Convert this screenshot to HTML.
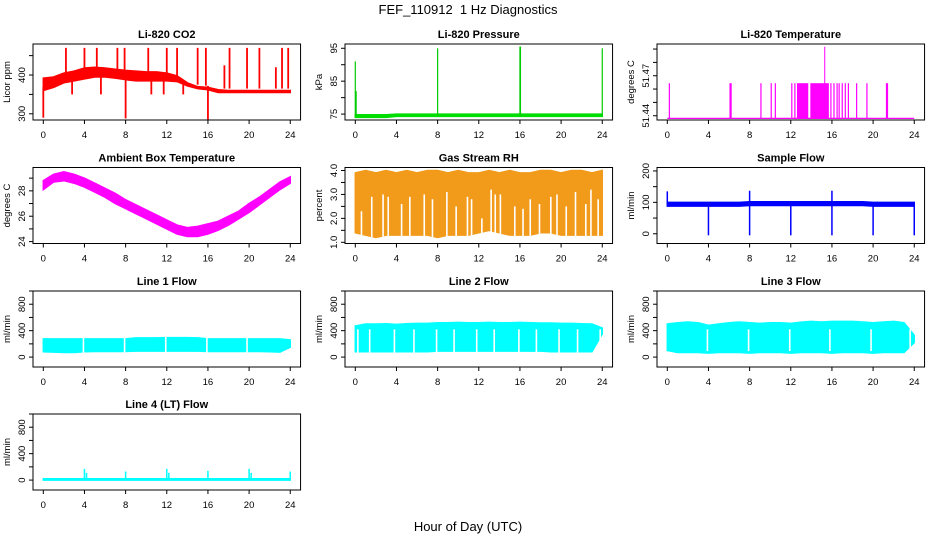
<!DOCTYPE html>
<html><head><meta charset="utf-8">
<style>
html,body{margin:0;padding:0;background:#fff;}
svg{display:block;font-family:"Liberation Sans",Arial,sans-serif;}
</style></head>
<body>
<svg id="chart" width="936" height="540" viewBox="0 0 936 540">
<rect width="936" height="540" fill="#fff"/>
<text x="468" y="14" text-anchor="middle" font-size="13" xml:space="preserve">FEF_110912  1 Hz Diagnostics</text>
<text x="468" y="531" text-anchor="middle" font-size="13">Hour of Day (UTC)</text>
</svg>
<script>
// ---------- data ----------
const hours = [0,1,2,3,4,5,6,7,8,9,10,11,12,13,14,15,16,17,18,19,20,21,22,23,24];
const xTicks = [0,4,8,12,16,20,24];

const co2Hi = [392,395,405,410,418,420,418,415,412,410,408,408,405,398,380,370,368,362,360,360,360,360,360,360,360];
const co2Lo = [360,368,380,385,390,395,395,392,388,385,385,385,385,383,372,365,362,355,355,355,355,355,355,355,355];
const co2SpikeT = [0.0,2.2,4.0,5.2,7.2,7.9,8.0,10.2,12.0,13.0,15.0,15.8,16.0,17.6,18.1,19.8,21.0,22.6,23.2,23.8,2.8,5.6,10.5,11.7,13.6];
const co2SpikeV = [290,470,470,470,470,470,288,470,470,470,470,470,285,425,470,470,470,420,470,470,350,350,350,350,350];

const presHi = [74.8,74.8,74.8,74.8,75.0,75.0,75.0,75.0,75.0,75.0,75.0,75.0,75.0,75.0,75.0,75.0,75.0,75.0,75.0,75.0,75.0,75.0,75.0,75.0,75.0];
const presLo = [74.0,74.0,74.0,74.0,74.3,74.3,74.3,74.3,74.3,74.3,74.3,74.3,74.3,74.3,74.3,74.3,74.3,74.3,74.3,74.3,74.3,74.3,74.3,74.3,74.3];
const presSpikeT = [0.0,0.08,8.0,16.0,16.05,24.0];
const presSpikeV = [91,82,95,95.5,95.5,95];

const ltBase = 51.438;
const ltStep = 51.4644;
const ltSpikeT = [0.2,6.1,6.2,9.1,10.1,10.5,12.1,12.4,15.9,16.2,16.5,16.7,17.0,17.3,17.6,18.4,19.4,21.3,21.4];
const ltBlockStart = [12.6,13.9];
const ltBlockEnd = [13.7,15.7];
const ltPeakT = [15.3];
const ltPeakV = [51.4917];

const ambHi = [28.8,29.3,29.5,29.3,29.0,28.6,28.2,27.8,27.3,26.9,26.5,26.1,25.7,25.3,25.1,25.2,25.4,25.6,26.0,26.4,27.0,27.5,28.1,28.7,29.1];
const ambLo = [28.1,28.7,28.8,28.6,28.3,27.9,27.5,27.0,26.6,26.2,25.8,25.4,25.0,24.6,24.4,24.4,24.6,24.9,25.3,25.8,26.3,26.9,27.5,28.1,28.6];

const rhHi = [3.9,4.0,3.9,4.0,3.9,4.0,3.9,4.0,4.0,3.9,4.0,3.9,3.9,4.0,3.9,4.0,3.9,3.9,4.0,4.0,3.9,4.0,4.0,3.9,4.0];
const rhLo = [1.4,1.3,1.2,1.3,1.3,1.3,1.3,1.3,1.2,1.3,1.3,1.3,1.4,1.5,1.4,1.3,1.3,1.3,1.4,1.4,1.3,1.3,1.3,1.3,1.3];
const rhGapT = [0.6,1.6,2.7,3.2,4.5,5.3,6.7,7.5,8.9,9.8,10.9,11.3,12.3,13.2,13.6,14.1,15.5,16.3,17.0,17.9,19.0,19.6,20.5,21.4,22.4,22.9,23.6];
const rhGapV = [2.3,2.9,3.0,2.9,2.6,2.9,3.0,2.8,3.1,2.5,2.9,2.8,2.0,3.2,3.0,3.0,2.5,2.4,2.8,2.6,2.9,3.0,2.5,3.1,2.6,3.2,2.8];

const sfHi = [100,100,100,100,100,100,100,100,102,102,102,102,102,102,102,102,102,102,102,102,100,100,100,100,100];
const sfLo = [88,88,88,88,88,88,88,88,90,90,90,90,90,90,90,90,90,90,90,90,88,88,88,88,88];
const sfSpikeT = [0.0,4.0,8.0,8.0,12.0,16.0,16.0,20.0,24.0];
const sfSpikeV = [135,-5,-5,137,-5,-5,137,-5,-5];

const l1Hi = [275,275,275,275,275,275,275,275,275,290,290,290,295,295,295,290,275,275,275,275,275,275,275,275,260];
const l1Lo = [80,75,70,70,80,85,85,85,85,90,90,90,90,90,90,90,85,85,85,85,85,85,80,75,150];
const l1GapT = [3.9,7.9,11.9,15.9,19.8];

const l2Hi = [470,500,500,505,495,505,510,510,520,520,525,520,520,525,520,520,525,520,515,515,510,510,505,500,440];
const l2Lo = [80,80,80,80,80,80,80,80,90,90,90,90,90,90,90,90,90,90,90,80,80,80,80,80,350];
const l2GapT = [0.25,1.4,3.8,5.7,7.9,9.6,11.8,13.5,15.9,17.6,19.8,21.6,23.8];

const l3Hi = [500,520,530,520,480,500,520,530,520,510,520,520,510,530,540,530,540,540,540,530,520,530,540,520,330];
const l3Lo = [100,70,70,70,60,70,70,70,60,70,70,70,60,70,70,70,60,70,70,70,60,70,70,70,220];
const l3GapT = [3.9,7.9,11.9,15.8,19.8,23.6];

const l4Hi = [20,20,20,20,20,20,20,20,20,20,20,20,20,20,20,20,20,20,20,20,20,20,20,20,20];
const l4Lo = [0,0,0,0,0,0,0,0,0,0,0,0,0,0,0,0,0,0,0,0,0,0,0,0,0];
const l4SpikeT = [4.0,4.2,8.0,12.0,12.2,16.0,20.0,20.2,24.0];
const l4SpikeV = [170,110,130,170,110,140,170,110,130];

// ---------- drawing ----------
const svg = document.getElementById('chart');
const NS = 'http://www.w3.org/2000/svg';
const COLX = [43.3, 355.3, 667.3];
const ROWY = [44, 167.5, 291, 414];
const PH = 10.29, BH = 76;

function mk(tag, attrs, parent) {
  const e = document.createElementNS(NS, tag);
  for (const k in attrs) e.setAttribute(k, attrs[k]);
  (parent || svg).appendChild(e);
  return e;
}

function panel(col, row, title, ylab, ylim, yticks, ylabels, name) {
  const g = mk('g', {});
  
  
  const x0 = COLX[col], top = ROWY[row], bot = top + BH;
  const L = x0 - 10.3, R = x0 + 24 * PH + 10.3;
  const x = h => x0 + h * PH;
  const y = v => bot - (v - ylim[0]) / (ylim[1] - ylim[0]) * BH;
  const plot = mk('g', {}, g);
  
  
  const fr = mk('rect', {x: L, y: top, width: R - L, height: BH, fill: 'none', stroke: '#000', 'stroke-width': 1}, g);
  
  
  const t = mk('text', {x: (L + R) / 2, y: top - 6, 'text-anchor': 'middle', 'font-size': 11, 'font-weight': 'bold'}, g);
  t.textContent = title;
  
  
  const xa = mk('g', {}, g);
  
  
  xTicks.forEach(h => {
    mk('line', {x1: x(h), x2: x(h), y1: bot, y2: bot + 4, stroke: '#000'}, xa);
    const tl = mk('text', {x: x(h), y: bot + 18, 'text-anchor': 'middle', 'font-size': 9.5}, xa);
    tl.textContent = h;
    
    
  });
  const ya = mk('g', {}, g);
  
  
  yticks.forEach(v => {
    mk('line', {x1: L, x2: L - 4, y1: y(v), y2: y(v), stroke: '#000'}, ya);
  });
  ylabels.forEach(v => {
    const yl = mk('text', {x: 0, y: 0, 'text-anchor': 'middle', 'font-size': 9.5, transform: `translate(${L - 8},${y(v)}) rotate(-90)`}, ya);
    yl.textContent = v;
    
    
  });
  const yt = mk('text', {x: 0, y: 0, 'text-anchor': 'middle', 'font-size': 9.5, transform: `translate(${L - 23},${(top + bot) / 2}) rotate(-90)`}, g);
  yt.textContent = ylab;
  
  
  return {x, y, plot, top, bot};
}

function band(p, hi, lo, color, name) {
  let pts = hours.map((h, i) => p.x(h) + ',' + p.y(hi[i]));
  pts = pts.concat(hours.map((h, i) => p.x(h) + ',' + p.y(lo[i])).reverse());
  const e = mk('polygon', {points: pts.join(' '), fill: color, stroke: color, 'stroke-width': 1.5}, p.plot);
  
  
}
function interp(arr, h) {
  const i = Math.min(23, Math.floor(h)); const f = h - i;
  return arr[i] * (1 - f) + arr[i + 1] * f;
}
function spikes(p, ts, vs, base, color, name, w) {
  ts.forEach((t, i) => {
    const b = typeof base === 'function' ? base(t) : base;
    const e = mk('line', {x1: p.x(t), x2: p.x(t), y1: p.y(b), y2: p.y(vs[i]), stroke: color, 'stroke-width': w || 1.5}, p.plot);
    
    
  });
}
function gaps(p, ts, from, to, name) {
  ts.forEach(t => {
    const e = mk('line', {x1: p.x(t), x2: p.x(t), y1: p.y(from), y2: p.y(to), stroke: '#fff', 'stroke-width': 1.6}, p.plot);
    
    
  });
}

let p = panel(0, 0, 'Li-820 CO2', 'Licor ppm', [284, 480], [300, 350, 400, 450], [300, 400], 'co2');
band(p, co2Hi, co2Lo, '#ff0000', 'co2-series');
spikes(p, co2SpikeT, co2SpikeV, t => interp(co2Lo, t) + 10, '#ff0000', 'co2-spike', 1.8);

p = panel(1, 0, 'Li-820 Pressure', 'kPa', [73.2, 96.3], [75, 80, 85, 90, 95], [75, 85, 95], 'pressure');
band(p, presHi, presLo, '#00dd00', 'pressure-series');
spikes(p, presSpikeT, presSpikeV, 74.5, '#00cc00', 'pressure-spike', 1.2);

p = panel(2, 0, 'Li-820 Temperature', 'degrees C', [51.4368, 51.4938], [51.44, 51.45, 51.46, 51.47, 51.48, 51.49], [51.44, 51.47], 'li-temperature');
(function () {
  const e = mk('line', {x1: p.x(0), x2: p.x(24), y1: p.y(ltBase), y2: p.y(ltBase), stroke: '#ff00ff', 'stroke-width': 1.3}, p.plot);
  
  
  spikes(p, ltSpikeT, ltSpikeT.map(() => ltStep), ltBase, '#ff00ff', 'li-temperature-step', 1.2);
  ltBlockStart.forEach((s, i) => {
    const r = mk('rect', {x: p.x(s), y: p.y(ltStep), width: p.x(ltBlockEnd[i]) - p.x(s), height: p.y(ltBase) - p.y(ltStep), fill: '#ff00ff'}, p.plot);
    
    
  });
  spikes(p, ltPeakT, ltPeakV, ltBase, '#ff00ff', 'li-temperature-peak', 1);
})();

p = panel(0, 1, 'Ambient Box Temperature', 'degrees C', [23.85, 29.84], [24, 25, 26, 27, 28, 29], [24, 26, 28], 'ambient-temperature');
band(p, ambHi, ambLo, '#ff00ff', 'ambient-temperature-series');

p = panel(1, 1, 'Gas Stream RH', 'percent', [0.95, 4.125], [1.0, 1.5, 2.0, 2.5, 3.0, 3.5, 4.0], ['1.0', '2.0', '3.0', '4.0'], 'gas-rh');
band(p, rhHi, rhLo, '#f29a1a', 'gas-rh-series');
(function () {
  rhGapT.forEach((t, i) => {
    const e = mk('line', {x1: p.x(t), x2: p.x(t), y1: p.y(1.0), y2: p.y(rhGapV[i]), stroke: '#fff', 'stroke-width': 1.6}, p.plot);
    
    
  });
})();

p = panel(2, 1, 'Sample Flow', 'ml/min', [-31, 211], [0, 50, 100, 150, 200], [0, 100, 200], 'sample-flow');
band(p, sfHi, sfLo, '#0000ff', 'sample-flow-series');
spikes(p, sfSpikeT, sfSpikeV, 95, '#0000ff', 'sample-flow-spike', 1.5);

const lt = [0, 200, 400, 600, 800, 1000], ll = [0, 400, 800], ly = [-150, 1000];
p = panel(0, 2, 'Line 1 Flow', 'ml/min', ly, lt, ll, 'line1-flow');
band(p, l1Hi, l1Lo, '#00ffff', 'line1-flow-series');
gaps(p, l1GapT, 40, 320, 'line1-flow-gap');

p = panel(1, 2, 'Line 2 Flow', 'ml/min', ly, lt, ll, 'line2-flow');
band(p, l2Hi, l2Lo, '#00ffff', 'line2-flow-series');
gaps(p, l2GapT, 60, 420, 'line2-flow-gap');

p = panel(2, 2, 'Line 3 Flow', 'ml/min', ly, lt, ll, 'line3-flow');
band(p, l3Hi, l3Lo, '#00ffff', 'line3-flow-series');
gaps(p, l3GapT, 90, 420, 'line3-flow-gap');

p = panel(0, 3, 'Line 4 (LT) Flow', 'ml/min', ly, lt, ll, 'line4-flow');
band(p, l4Hi, l4Lo, '#00ffff', 'line4-flow-series');
spikes(p, l4SpikeT, l4SpikeV, 10, '#00ffff', 'line4-flow-spike', 1.5);
</script>
</body></html>
